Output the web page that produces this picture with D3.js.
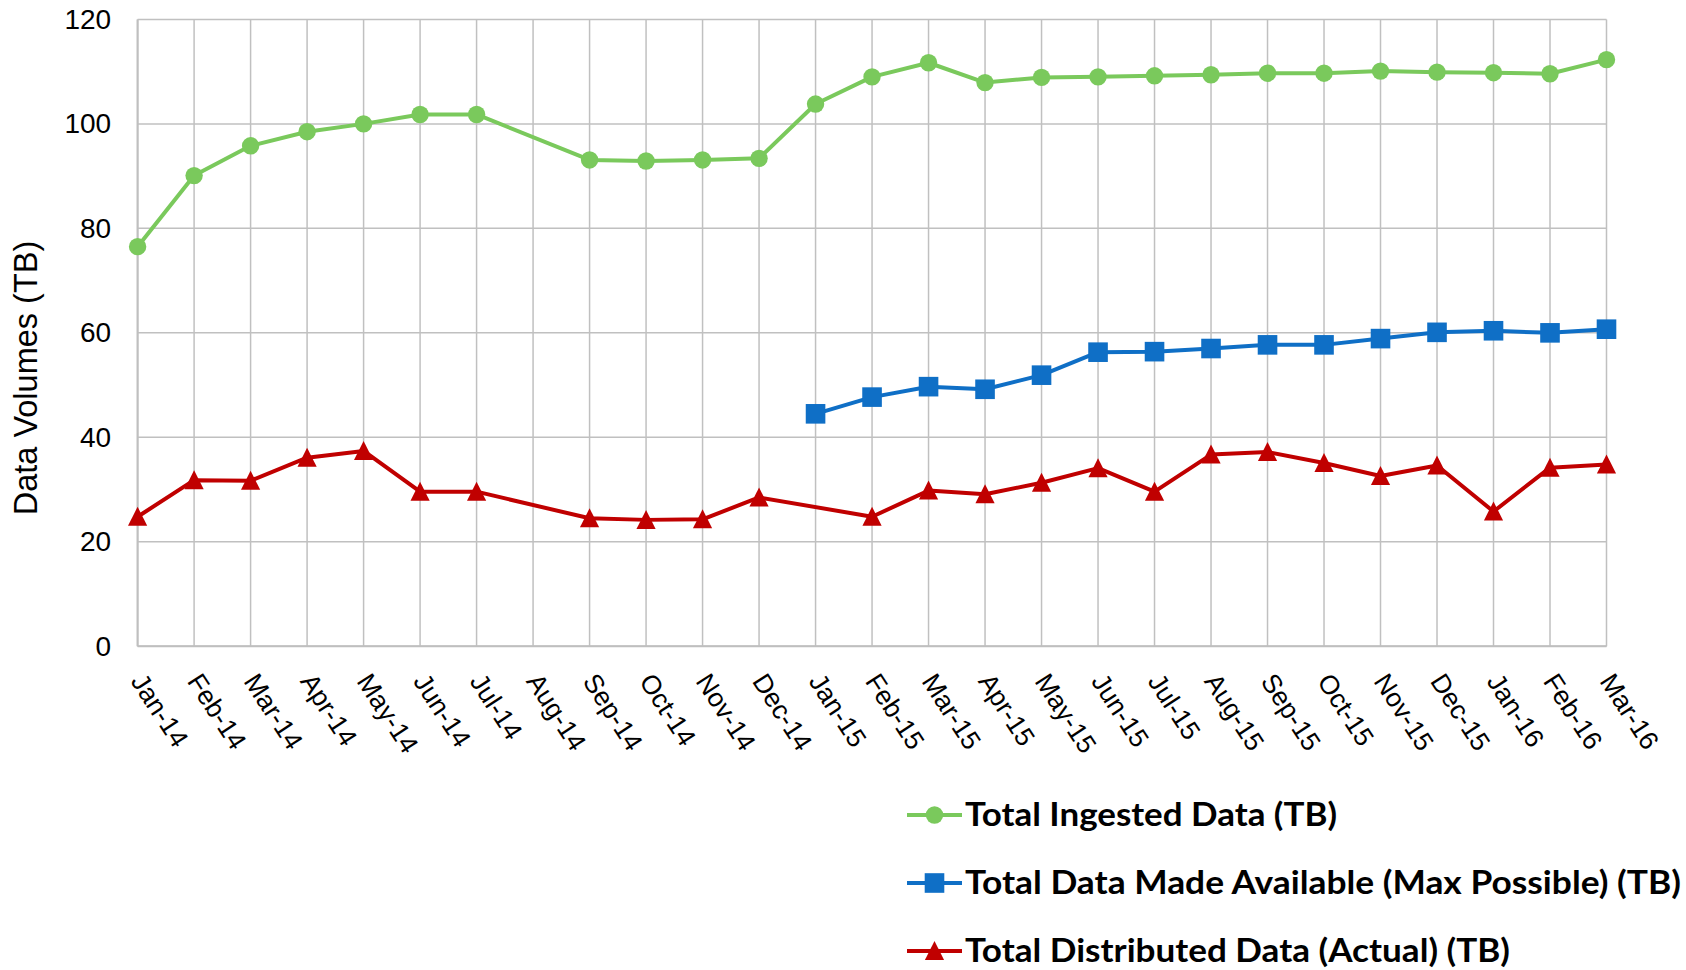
<!DOCTYPE html>
<html><head><meta charset="utf-8">
<script src="https://cdn.jsdelivr.net/npm/d3@7"></script>
<style>
body{margin:0;background:#fff}
text{font-family:"Liberation Sans",Arial,sans-serif;fill:#000}
</style>
</head><body>
<svg id="chart" width="1686" height="970"></svg>
<script>
const months = ["Jan-14","Feb-14","Mar-14","Apr-14","May-14","Jun-14","Jul-14","Aug-14","Sep-14","Oct-14","Nov-14","Dec-14",
  "Jan-15","Feb-15","Mar-15","Apr-15","May-15","Jun-15","Jul-15","Aug-15","Sep-15","Oct-15","Nov-15","Dec-15",
  "Jan-16","Feb-16","Mar-16"];
const ingested = [76.5,90.1,95.8,98.5,100.0,101.8,101.8,null,93.1,92.9,93.1,93.4,
  103.8,109.0,111.7,107.9,108.9,109.0,109.2,109.4,109.7,109.7,110.1,109.9,
  109.8,109.6,112.3];
const available = [null,null,null,null,null,null,null,null,null,null,null,null,
  44.5,47.7,49.7,49.2,51.9,56.3,56.4,57.0,57.7,57.7,58.9,60.1,
  60.4,60.0,60.7];
const distributed = [24.8,31.8,31.7,36.1,37.4,29.6,29.6,null,24.5,24.2,24.3,28.5,
  null,24.8,29.8,29.1,31.3,34.1,29.6,36.7,37.2,35.1,32.6,34.6,
  25.8,34.2,34.8];
const yTicks = [0,20,40,60,80,100,120];
const seriesNames = ["Total Ingested Data (TB)","Total Data Made Available (Max Possible) (TB)","Total Distributed Data (Actual) (TB)"];
const yTitle = "Data Volumes (TB)";

const colors = ["#7AC95C","#0F6FC6","#C00000"];
const markers = ["circle","square","triangle"];
const legendWidths = [372,716,545];

const svg = d3.select("#chart");
const L = 137.6, R = 1606.5, T = 19.4, B = 646.3;
const x = d3.scalePoint().domain(months).range([L,R]);
const y = d3.scaleLinear().domain([0,120]).range([B,T]);

// gridlines
const grid = svg.append("g");
grid.selectAll(".hg").data(yTicks).join("line")
  .attr("x1",L).attr("x2",R).attr("y1",d=>y(d)).attr("y2",d=>y(d))
  .attr("stroke","#C0C0C0").attr("stroke-width",1.5);
grid.selectAll(".vg").data(months).join("line")
  .attr("x1",d=>x(d)).attr("x2",d=>x(d)).attr("y1",T).attr("y2",B)
  .attr("stroke","#C0C0C0").attr("stroke-width",1.5);
// axis lines
svg.append("line").attr("x1",L).attr("x2",L).attr("y1",T).attr("y2",B).attr("stroke","#BFBFBF").attr("stroke-width",2);
svg.append("line").attr("x1",L).attr("x2",R).attr("y1",B).attr("y2",B).attr("stroke","#BFBFBF").attr("stroke-width",2);

// y axis labels
const yAxis = svg.append("g").attr("transform",`translate(${L},0)`)
  .call(d3.axisLeft(y).tickValues(yTicks).tickSize(0).tickPadding(26.5));
yAxis.select(".domain").remove();
yAxis.selectAll("text").attr("font-size",28).attr("font-family","Liberation Sans, Arial, sans-serif").attr("fill","#000");

// x axis labels
const xAxis = svg.append("g").attr("transform",`translate(0,${B})`)
  .call(d3.axisBottom(x).tickSize(0));
xAxis.select(".domain").remove();
xAxis.selectAll("text")
  .attr("x",0).attr("y",0).attr("dy",0)
  .attr("text-anchor","start")
  .attr("transform","translate(-8,35) rotate(57)")
  .attr("font-size",26.5).attr("font-family","Liberation Sans, Arial, sans-serif").attr("fill","#000");

// y title
svg.append("text").attr("transform","translate(37,378) rotate(-90)")
  .attr("text-anchor","middle").attr("font-size",32.5).text(yTitle);

function drawMarker(g, type, color){
  if(type==="circle") g.append("circle").attr("r",8.7).attr("fill",color);
  else if(type==="square") g.append("rect").attr("x",-9.8).attr("y",-9.8).attr("width",19.6).attr("height",19.6).attr("fill",color);
  else g.append("path").attr("d","M0,-10L9.6,9L-9.6,9Z").attr("fill",color);
}

const allSeries = [ingested, available, distributed];
allSeries.forEach((vals,i)=>{
  const pts = months.map((m,j)=>({m, v:vals[j]})).filter(d=>d.v!==null);
  const line = d3.line().x(d=>x(d.m)).y(d=>y(d.v));
  svg.append("path").datum(pts).attr("d",line).attr("fill","none")
    .attr("stroke",colors[i]).attr("stroke-width",4).attr("stroke-linejoin","round");
  const mg = svg.append("g");
  pts.forEach(p=>{
    const g = mg.append("g").attr("transform",`translate(${x(p.m)},${y(p.v)})`);
    drawMarker(g, markers[i], colors[i]);
  });
});

// legend
const legY = [815,883,951];
seriesNames.forEach((name,i)=>{
  const g = svg.append("g").attr("transform",`translate(0,${legY[i]})`);
  g.append("line").attr("x1",907).attr("x2",962).attr("y1",0).attr("y2",0)
    .attr("stroke",colors[i]).attr("stroke-width",4);
  const mg = g.append("g").attr("transform","translate(934.5,0)");
  drawMarker(mg, markers[i], colors[i]);
  g.append("text").attr("x",965).attr("y",0).attr("dy","0.35em")
    .attr("font-weight","bold")
    .attr("font-size",32).attr("textLength",legendWidths[i]).attr("lengthAdjust","spacingAndGlyphs")
    .style("font-family","Lato, 'Open Sans', sans-serif")
    .text(name);
});
</script>
</body></html>
